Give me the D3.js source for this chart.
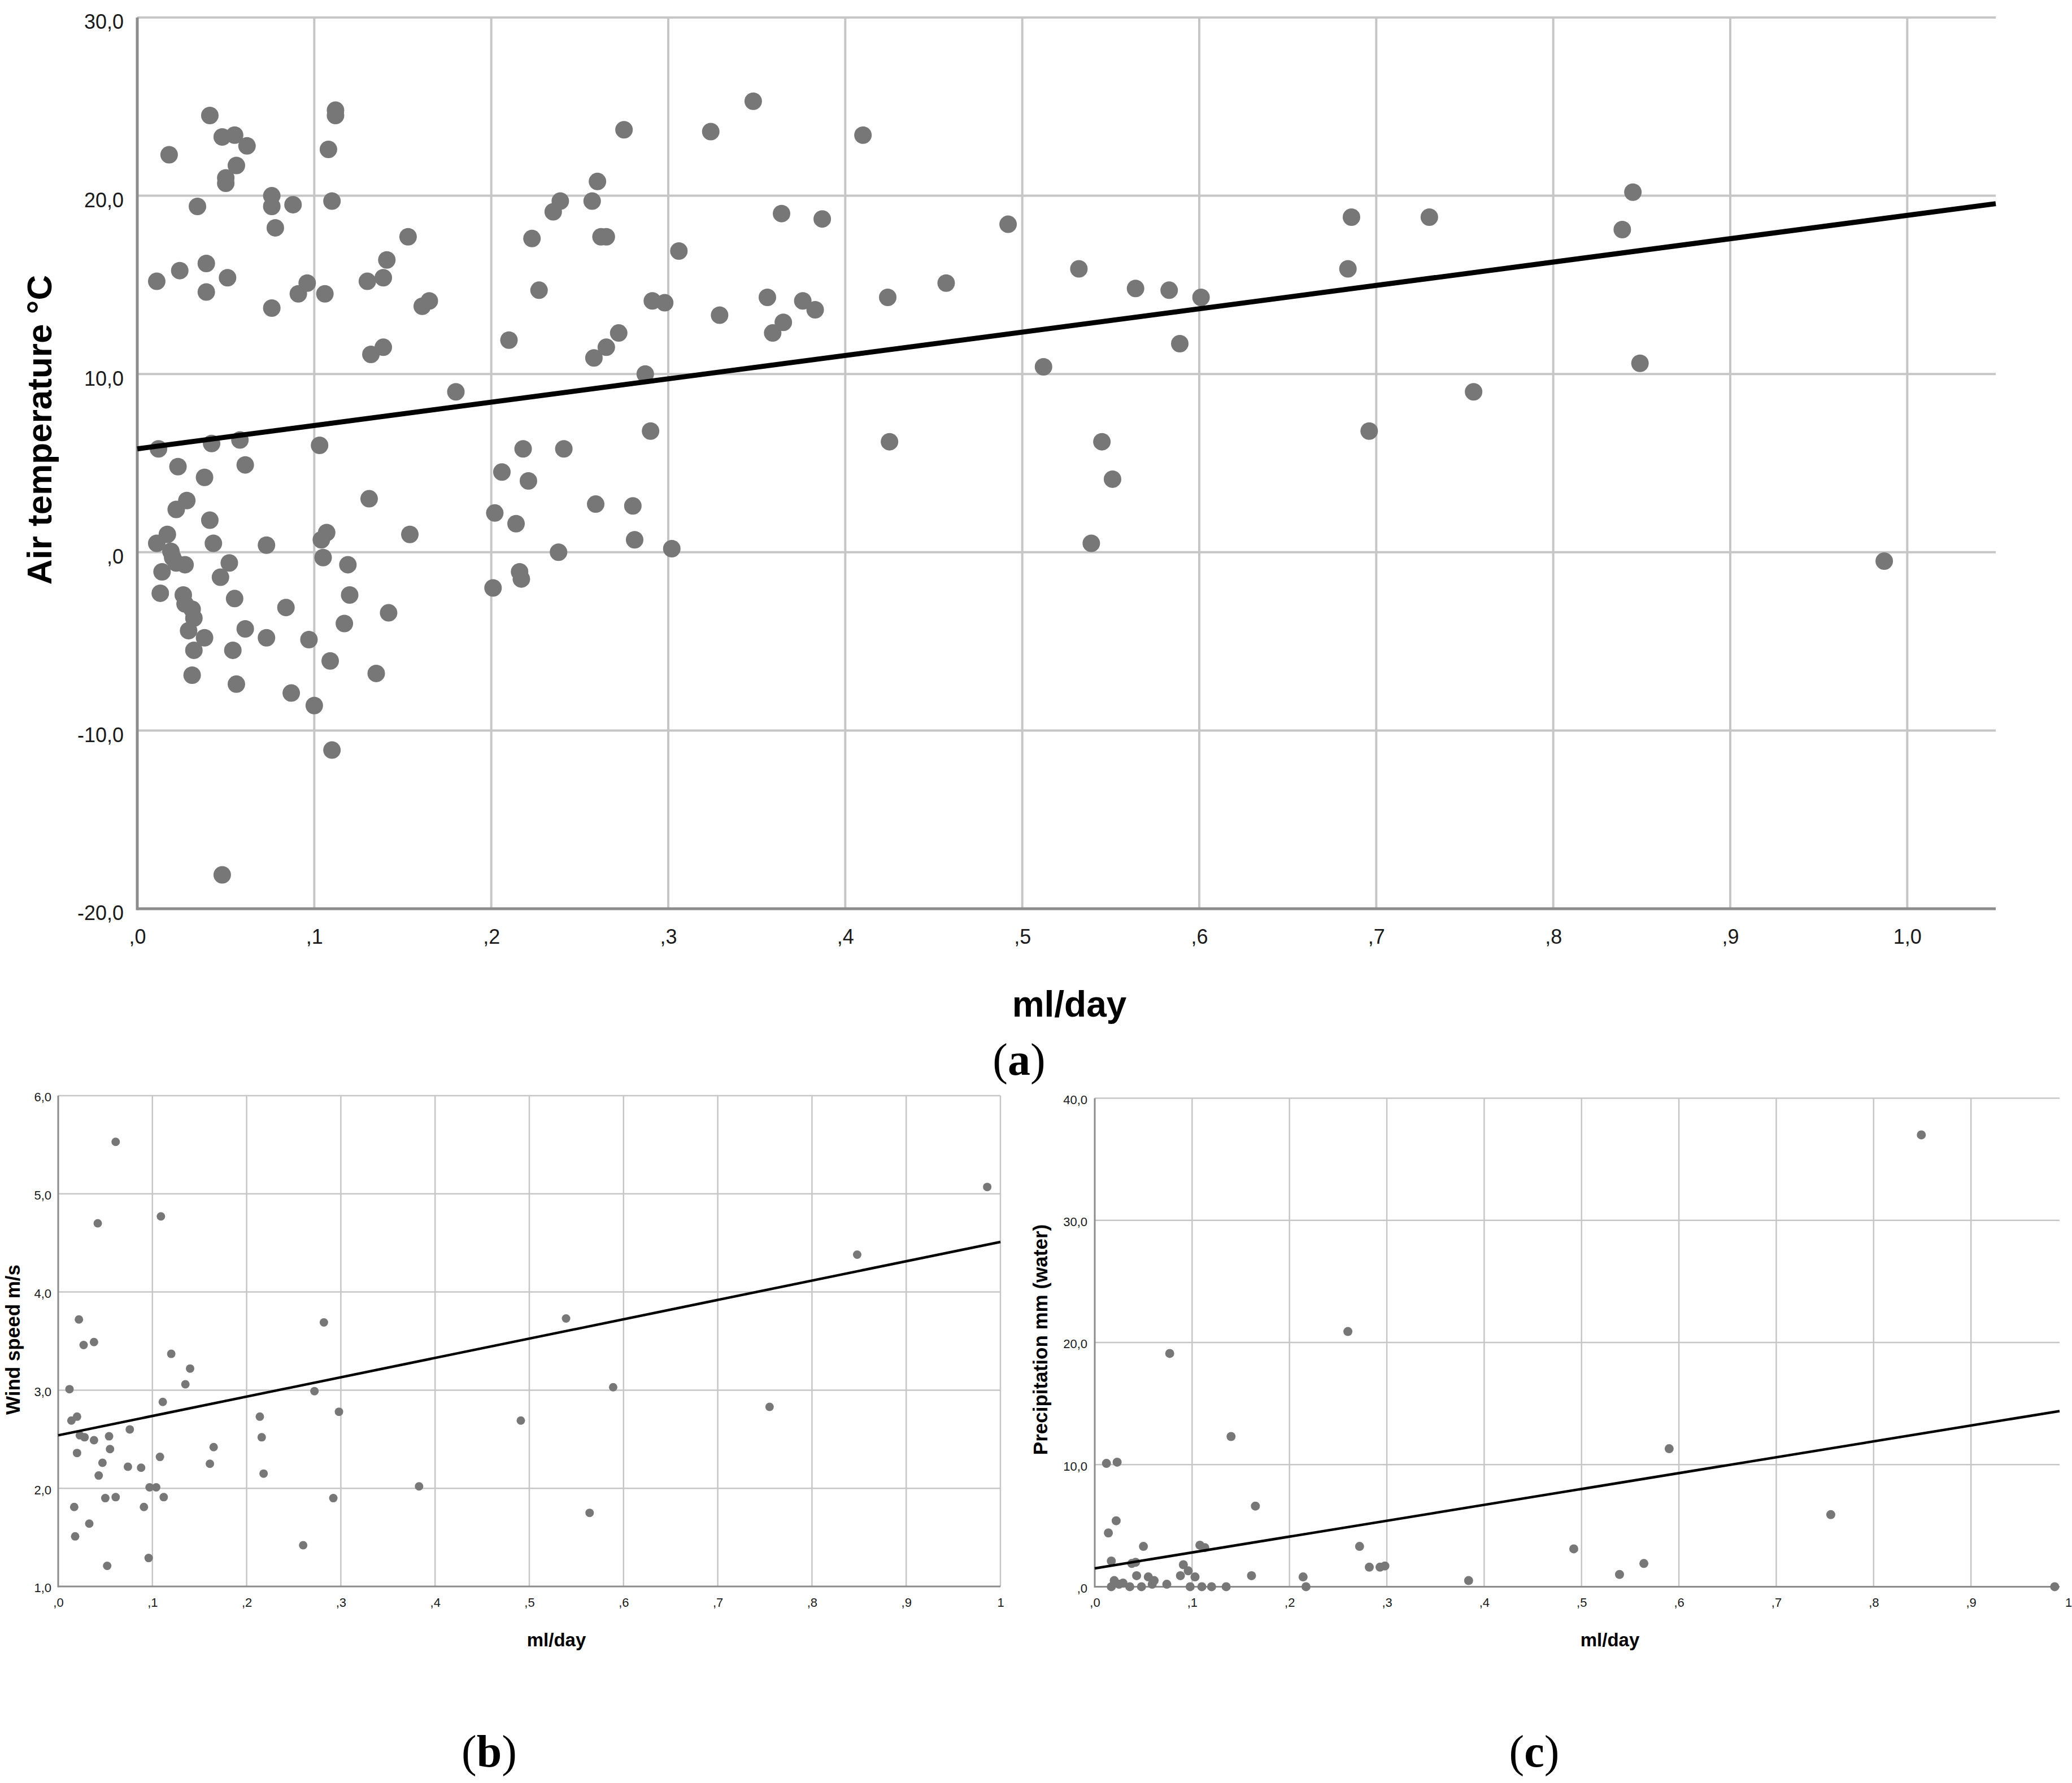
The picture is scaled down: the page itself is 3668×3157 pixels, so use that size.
<!DOCTYPE html>
<html><head><meta charset="utf-8">
<script src="https://cdn.jsdelivr.net/npm/d3@7"></script>
<style>
body{margin:0;background:#fff}
svg{display:block;background:#fff}
text{font-family:"Liberation Sans",Arial,Helvetica,sans-serif}
</style>
</head><body>
<svg id="chart" width="3668" height="3157"></svg>
<script>
// ---------- (a) Air temperature vs ml/day ----------
const airX = [0.011,0.018,0.024,0.034,0.041,0.039,0.039,0.048,0.055,0.062,0.056,0.050,0.050,0.051,0.076,0.076,0.078,0.088,0.076,0.091,0.096,0.106,0.108,0.112,0.112,0.110,0.130,0.139,0.141,0.153,0.132,0.139,0.161,0.165,0.180,0.210,0.223,0.227,0.235,0.239,0.257,0.260,0.262,0.265,0.258,0.265,0.272,0.275,0.287,0.291,0.298,0.306,0.324,
  0.012,0.042,0.058,0.023,0.061,0.038,0.103,0.022,0.028,0.041,0.131,0.202,0.206,0.218,0.221,0.241,0.214,0.259,0.280,0.290,0.281,0.302,0.238,0.154,0.107,0.104,0.073,0.043,0.011,0.017,
  0.019,0.020,0.022,0.027,0.014,0.052,0.047,0.105,0.119,0.013,0.026,0.027,0.031,0.032,0.055,0.120,0.084,0.142,0.117,0.029,0.038,0.061,0.073,0.097,0.032,0.054,0.109,0.031,0.135,0.056,0.087,0.100,0.110,0.048,0.201,0.216,0.217,
  0.348,0.410,0.364,0.387,0.492,0.329,0.356,0.376,0.383,0.365,0.359,0.424,0.457,0.532,0.564,0.583,0.601,0.589,0.512,0.686,0.684,0.696,0.425,0.545,0.551,0.539,
  0.730,0.755,0.845,0.839,0.849,0.987];
const airT = [15.2,22.3,15.8,19.4,24.5,16.2,14.6,23.3,23.4,22.8,21.7,21.0,20.7,15.4,20.0,19.4,18.2,19.5,13.7,14.5,15.1,14.5,22.6,24.8,24.5,19.7,15.2,15.4,16.4,17.7,11.1,11.5,13.8,14.1,9.0,11.9,17.6,14.7,19.1,19.7,19.7,20.8,17.7,17.7,10.9,11.5,12.3,23.7,10.0,14.1,14.0,16.9,23.6,
  5.8,6.1,6.3,4.8,4.9,4.2,6.0,2.4,2.9,1.8,3.0,2.2,4.5,5.8,4.0,5.8,1.6,2.7,2.6,6.8,0.7,0.2,0.0,1.0,1.1,0.7,0.4,0.5,0.5,1.0,
  0.05,-0.3,-0.6,-0.7,-1.1,-0.6,-1.4,-0.3,-0.7,-2.3,-2.4,-2.9,-3.2,-3.7,-2.6,-2.4,-3.1,-3.4,-4.0,-4.4,-4.8,-4.3,-4.8,-4.9,-5.5,-5.5,-6.1,-6.9,-6.8,-7.4,-7.9,-8.6,-11.1,-18.1,-2.0,-1.1,-1.5,
  25.3,23.4,19.0,18.7,18.4,13.3,14.3,14.1,13.6,12.9,12.3,14.3,15.1,15.9,14.8,14.7,14.3,11.7,10.4,18.8,15.9,6.8,6.2,6.2,4.1,0.5,
  18.8,9.0,20.2,18.1,10.6,-0.5];
const airFit = [5.8, 13.1];            // intercept, slope
const airXTicks = [0,0.1,0.2,0.3,0.4,0.5,0.6,0.7,0.8,0.9,1.0];
const airXLabels = [",0",",1",",2",",3",",4",",5",",6",",7",",8",",9","1,0"];
const airYTicks = [-20,-10,0,10,20,30];
const airYLabels = ["-20,0","-10,0",",0","10,0","20,0","30,0"];

// ---------- (b) Wind speed vs ml/day ----------
const windX = [0.061,0.042,0.109,0.022,0.027,0.038,0.120,0.140,0.135,0.012,0.282,0.272,0.111,0.298,0.014,0.020,0.214,0.491,0.023,0.028,0.038,0.054,0.076,0.216,0.055,0.020,0.165,0.108,0.047,0.161,0.074,0.088,0.043,0.218,0.097,0.104,0.383,0.050,0.061,0.112,0.292,0.017,0.091,0.033,0.018,0.260,0.096,0.052,0.986,0.848,0.539,0.589,0.755,0.564];
const windS = [5.53,4.70,4.77,3.72,3.46,3.49,3.37,3.22,3.06,3.01,3.69,2.99,2.88,2.78,2.69,2.73,2.73,2.69,2.54,2.52,2.49,2.53,2.60,2.52,2.40,2.36,2.42,2.32,2.26,2.25,2.22,2.21,2.13,2.15,2.01,2.01,2.02,1.90,1.91,1.91,1.90,1.81,1.81,1.64,1.51,1.42,1.29,1.21,5.07,4.38,3.73,3.03,2.83,1.75];
const windFit = [2.54, 1.97];
const windXTicks = [0,0.1,0.2,0.3,0.4,0.5,0.6,0.7,0.8,0.9,1.0];
const windXLabels = [",0",",1",",2",",3",",4",",5",",6",",7",",8",",9","1"];
const windYTicks = [1,2,3,4,5,6];
const windYLabels = ["1,0","2,0","3,0","4,0","5,0","6,0"];

// ---------- (c) Precipitation vs ml/day ----------
const precX = [0.077,0.260,0.140,0.012,0.023,0.165,0.022,0.014,0.050,0.108,0.113,0.272,0.017,0.038,0.042,0.091,0.096,0.282,0.293,0.298,0.043,0.088,0.103,0.161,0.214,0.384,0.055,0.020,0.029,0.061,0.074,0.017,0.025,0.036,0.048,0.059,0.098,0.110,0.120,0.135,0.217,0.849,0.590,0.756,0.492,0.564,0.539,0.986];
const precP = [19.1,20.9,12.3,10.1,10.2,6.6,5.4,4.4,3.3,3.4,3.2,3.3,2.1,1.9,2.0,1.8,1.3,1.6,1.6,1.7,0.9,0.9,0.8,0.9,0.8,0.5,0.8,0.5,0.3,0.5,0.2,0.0,0.2,0.0,0.0,0.2,0.0,0.0,0.0,0.0,0.0,37.0,11.3,5.9,3.1,1.9,1.0,0.0];
const precFit = [1.5, 13.0];
const precXTicks = [0,0.1,0.2,0.3,0.4,0.5,0.6,0.7,0.8,0.9,1.0];
const precXLabels = [",0",",1",",2",",3",",4",",5",",6",",7",",8",",9","1"];
const precYTicks = [0,10,20,30,40];
const precYLabels = [",0","10,0","20,0","30,0","40,0"];

const svg = d3.select("#chart");

function panel(cfg) {
  const x = d3.scaleLinear().domain(cfg.xDomain).range(cfg.xRange);
  const y = d3.scaleLinear().domain(cfg.yDomain).range(cfg.yRange);
  const g = svg.append("g");
  const x0 = cfg.xRange[0], x1 = cfg.xRange[1];
  const yb = cfg.yRange[0], yt = cfg.yRange[1];

  // grid
  g.append("g").selectAll("line.v").data(cfg.xTicks.filter(d => d > cfg.xDomain[0] && d <= cfg.xDomain[1]))
    .join("line").attr("x1", d => x(d)).attr("x2", d => x(d)).attr("y1", yb).attr("y2", yt)
    .attr("stroke", "#c6c6c6").attr("stroke-width", cfg.gridW);
  g.append("g").selectAll("line.h").data(cfg.yTicks.filter(d => d > cfg.yDomain[0]))
    .join("line").attr("x1", x0).attr("x2", x1).attr("y1", d => y(d)).attr("y2", d => y(d))
    .attr("stroke", "#c6c6c6").attr("stroke-width", cfg.gridW);

  // axes
  const ax = g.append("g").attr("transform", `translate(0,${yb})`)
    .call(d3.axisBottom(x).tickValues(cfg.xTicks).tickFormat((d, i) => cfg.xLabels[i]).tickSize(0).tickPadding(cfg.xPad));
  const ay = g.append("g").attr("transform", `translate(${x0},0)`)
    .call(d3.axisLeft(y).tickValues(cfg.yTicks).tickFormat((d, i) => cfg.yLabels[i]).tickSize(0).tickPadding(cfg.yPad));
  [ax, ay].forEach(a => {
    a.select(".domain").remove();
    a.selectAll("text").attr("font-size", cfg.tickFont).attr("fill", "#1a1a1a")
      .attr("font-family", '"Liberation Sans", Arial, sans-serif');
  });
  ay.selectAll("text").attr("dy", cfg.yDy);
  g.append("line").attr("x1", x0).attr("x2", x1).attr("y1", yb).attr("y2", yb)
    .attr("stroke", "#8c8c8c").attr("stroke-width", cfg.axisW);
  g.append("line").attr("x1", x0).attr("x2", x0).attr("y1", yb + cfg.axisW / 2).attr("y2", yt)
    .attr("stroke", "#8c8c8c").attr("stroke-width", cfg.axisW);

  // points
  g.append("g").selectAll("circle").data(cfg.xs.map((v, i) => [v, cfg.ys[i]]))
    .join("circle").attr("cx", d => x(d[0])).attr("cy", d => y(d[1])).attr("r", cfg.r)
    .attr("fill", "#777777");

  // fit line
  const fx = cfg.xDomain;
  g.append("line")
    .attr("x1", x(fx[0])).attr("y1", y(cfg.fit[0] + cfg.fit[1] * fx[0]))
    .attr("x2", x(fx[1])).attr("y2", y(cfg.fit[0] + cfg.fit[1] * fx[1]))
    .attr("stroke", "#000").attr("stroke-width", cfg.lineW);

  // titles
  g.append("text").attr("x", cfg.xTitle[0]).attr("y", cfg.xTitle[1]).attr("text-anchor", "middle")
    .attr("font-weight", "bold").attr("font-size", cfg.titleFont).attr("fill", "#000").text("ml/day");
  g.append("text").attr("transform", `translate(${cfg.yTitle[0]},${cfg.yTitle[1]}) rotate(-90)`)
    .attr("text-anchor", "middle").attr("font-weight", "bold").attr("font-size", cfg.yTitleFont)
    .attr("fill", "#000").text(cfg.yTitleText);

  // panel label
  const lab = svg.append("text").attr("x", cfg.label[0]).attr("y", cfg.label[1]).attr("text-anchor", "middle")
    .attr("font-family", '"Liberation Serif", "Times New Roman", serif').attr("font-size", 80).attr("fill", "#000");
  lab.append("tspan").attr("font-family", '"Liberation Serif", serif').text("(");
  lab.append("tspan").attr("font-family", '"Liberation Serif", serif').attr("font-weight", "bold").text(cfg.labelText);
  lab.append("tspan").attr("font-family", '"Liberation Serif", serif').text(")");
}

panel({
  xs: airX, ys: airT, fit: airFit,
  xDomain: [0, 1.05], xRange: [243, 3533], yDomain: [-20, 30], yRange: [1609, 31],
  xTicks: airXTicks, xLabels: airXLabels, yTicks: airYTicks, yLabels: airYLabels,
  xPad: 36, yPad: 24, yDy: "0.55em", tickFont: 36, gridW: 4, axisW: 5, r: 15.5, lineW: 9,
  xTitle: [1893, 1800], titleFont: 64, yTitle: [91, 761], yTitleFont: 62, yTitleText: "Air temperature °C",
  label: [1804, 1903], labelText: "a"
});
panel({
  xs: windX, ys: windS, fit: windFit,
  xDomain: [0, 1.0], xRange: [103, 1771], yDomain: [1, 6], yRange: [2809, 1940],
  xTicks: windXTicks, xLabels: windXLabels, yTicks: windYTicks, yLabels: windYLabels,
  xPad: 20, yPad: 12, yDy: "0.45em", tickFont: 22, gridW: 2.5, axisW: 3, r: 7.5, lineW: 4.5,
  xTitle: [985, 2915], titleFont: 33, yTitle: [35, 2372], yTitleFont: 35, yTitleText: "Wind speed m/s",
  label: [866, 3128], labelText: "b"
});
panel({
  xs: precX, ys: precP, fit: precFit,
  xDomain: [0, 0.991], xRange: [1938, 3646], yDomain: [0, 40], yRange: [2809.4, 1944.6],
  xTicks: precXTicks, xLabels: precXLabels, yTicks: precYTicks, yLabels: precYLabels,
  xPad: 20, yPad: 13, yDy: "0.45em", tickFont: 22, gridW: 2.5, axisW: 3, r: 8, lineW: 4.5,
  xTitle: [2850, 2915], titleFont: 33, yTitle: [1854, 2372], yTitleFont: 35, yTitleText: "Precipitation mm (water)",
  label: [2716, 3128], labelText: "c"
});
</script>
</body></html>
